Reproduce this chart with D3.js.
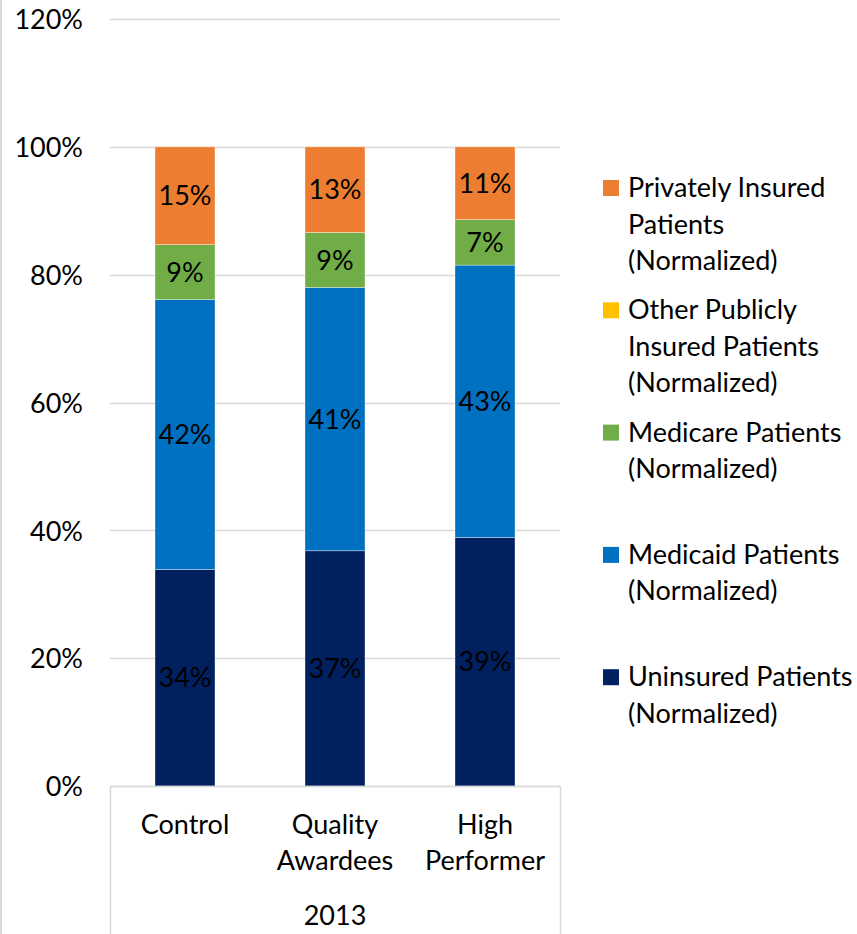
<!DOCTYPE html>
<html>
<head>
<meta charset="utf-8">
<script src="https://cdn.jsdelivr.net/npm/d3@7"></script>
<style>
  html, body { margin: 0; padding: 0; background: #fff; }
  svg { display: block; }
  text { font-family: Lato, "Open Sans", sans-serif; fill: #000; }
</style>
</head>
<body>
<svg id="chart" width="857" height="934"></svg>
<script>
// Payer mix by group, 2013 (percent of patients, normalized)
const categories = ["Control", "Quality Awardees", "High Performer"];
const groupLabel = "2013";
const uninsured   = [33.9, 36.8, 38.9];
const medicaid    = [42.2, 41.2, 42.6];
const medicare    = [8.6, 8.6, 7.1];
const otherPublic = [0, 0, 0];
const privateIns  = [15.3, 13.4, 11.4];

const seriesKeys = ["uninsured", "medicaid", "medicare", "otherPublic", "privateIns"];
const seriesNames = {
  privateIns:  ["Privately Insured", "Patients", "(Normalized)"],
  otherPublic: ["Other Publicly", "Insured Patients", "(Normalized)"],
  medicare:    ["Medicare Patients", "(Normalized)"],
  medicaid:    ["Medicaid Patients", "(Normalized)"],
  uninsured:   ["Uninsured Patients", "(Normalized)"]
};
const seriesColors = {
  uninsured: "#002060",
  medicaid: "#0070C0",
  medicare: "#70AD47",
  otherPublic: "#FFC000",
  privateIns: "#ED7D31"
};
const yTicks = [0, 20, 40, 60, 80, 100, 120];

const rows = categories.map((c, i) => ({
  category: c,
  uninsured: uninsured[i],
  medicaid: medicaid[i],
  medicare: medicare[i],
  otherPublic: otherPublic[i],
  privateIns: privateIns[i]
}));

const svg = d3.select("#chart");
const W = 857, H = 934;
const plot = { left: 110, right: 560, top: 19, bottom: 786 };
const fontSize = 27;

// outer frame edge on the left
svg.append("line")
  .attr("x1", 1).attr("x2", 1).attr("y1", 0).attr("y2", H)
  .attr("stroke", "#d9d9d9").attr("stroke-width", 2);

const x = d3.scaleBand()
  .domain(categories)
  .range([plot.left, plot.right])
  .paddingInner(0.6)
  .paddingOuter(0.3);

const y = d3.scaleLinear()
  .domain([0, 120])
  .range([plot.bottom, plot.top]);

// gridlines
svg.append("g")
  .selectAll("line")
  .data(yTicks)
  .join("line")
  .attr("x1", plot.left).attr("x2", plot.right)
  .attr("y1", d => Math.round(y(d)) + 0.5).attr("y2", d => Math.round(y(d)) + 0.5)
  .attr("stroke", "#d9d9d9").attr("stroke-width", 1.5);

// y-axis labels
const yAxis = d3.axisLeft(y)
  .tickValues(yTicks)
  .tickFormat(d => d + "%")
  .tickSize(0)
  .tickPadding(0);
const yAxisG = svg.append("g")
  .attr("transform", `translate(83,0)`)
  .call(yAxis);
yAxisG.select(".domain").remove();
yAxisG.selectAll("text")
  .attr("font-size", fontSize)
  .attr("font-family", "Lato, 'Open Sans', sans-serif")
  .attr("fill", "#000")
  .attr("dy", "0.36em");

// stacked bars
const stacked = d3.stack().keys(seriesKeys)(rows);
const layers = svg.append("g")
  .selectAll("g")
  .data(stacked)
  .join("g")
  .attr("fill", d => seriesColors[d.key]);

layers.selectAll("rect")
  .data(d => d.map(p => ({ key: d.key, p })))
  .join("rect")
  .attr("x", d => x(d.p.data.category))
  .attr("width", x.bandwidth())
  .attr("y", d => y(d.p[1]))
  .attr("height", d => y(d.p[0]) - y(d.p[1]))
  .attr("stroke", d => (d.p[1] - d.p[0]) > 0 ? "#ffffff" : "none")
  .attr("stroke-width", 0.6)
  .attr("stroke-opacity", 0.6);

// value labels
const fmt = d3.format(".0f");
layers.selectAll("text")
  .data(d => d.filter(p => p[1] - p[0] > 0).map(p => ({ key: d.key, p })))
  .join("text")
  .attr("x", d => x(d.p.data.category) + x.bandwidth() / 2)
  .attr("y", d => (y(d.p[0]) + y(d.p[1])) / 2)
  .attr("dy", "0.36em")
  .attr("text-anchor", "middle")
  .attr("font-size", fontSize)
  .text(d => fmt(d.p[1] - d.p[0]) + "%");

// category axis box
const axisG = svg.append("g").attr("stroke", "#d9d9d9").attr("stroke-width", 1.5);
axisG.append("line")
  .attr("x1", plot.left).attr("x2", plot.right)
  .attr("y1", plot.bottom + 0.5).attr("y2", plot.bottom + 0.5);
axisG.append("line")
  .attr("x1", plot.left + 0.5).attr("x2", plot.left + 0.5)
  .attr("y1", plot.bottom).attr("y2", H);
axisG.append("line")
  .attr("x1", plot.right + 0.5).attr("x2", plot.right + 0.5)
  .attr("y1", plot.bottom).attr("y2", H);

// category labels
const catG = svg.append("g");
categories.forEach(c => {
  const lines = c.split(" ");
  const t = catG.append("text")
    .attr("text-anchor", "middle")
    .attr("font-size", fontSize);
  lines.forEach((ln, i) => {
    t.append("tspan")
      .attr("x", x(c) + x.bandwidth() / 2)
      .attr("y", 834 + i * 36)
      .text(ln);
  });
});
svg.append("text")
  .attr("x", (plot.left + plot.right) / 2)
  .attr("y", 925)
  .attr("text-anchor", "middle")
  .attr("font-size", fontSize)
  .text(groupLabel);

// legend, top to bottom in reverse stack order
const legendKeys = seriesKeys.slice().reverse();
const legend = svg.append("g");
legendKeys.forEach((k, i) => {
  const cy = 188 + i * 122.3;
  legend.append("rect")
    .attr("x", 603).attr("y", cy - 8)
    .attr("width", 16).attr("height", 16)
    .attr("fill", seriesColors[k]);
  const t = legend.append("text").attr("font-size", fontSize);
  seriesNames[k].forEach((ln, j) => {
    t.append("tspan")
      .attr("x", 628)
      .attr("y", cy + 9 + j * 36.5)
      .text(ln);
  });
});
</script>
</body>
</html>
